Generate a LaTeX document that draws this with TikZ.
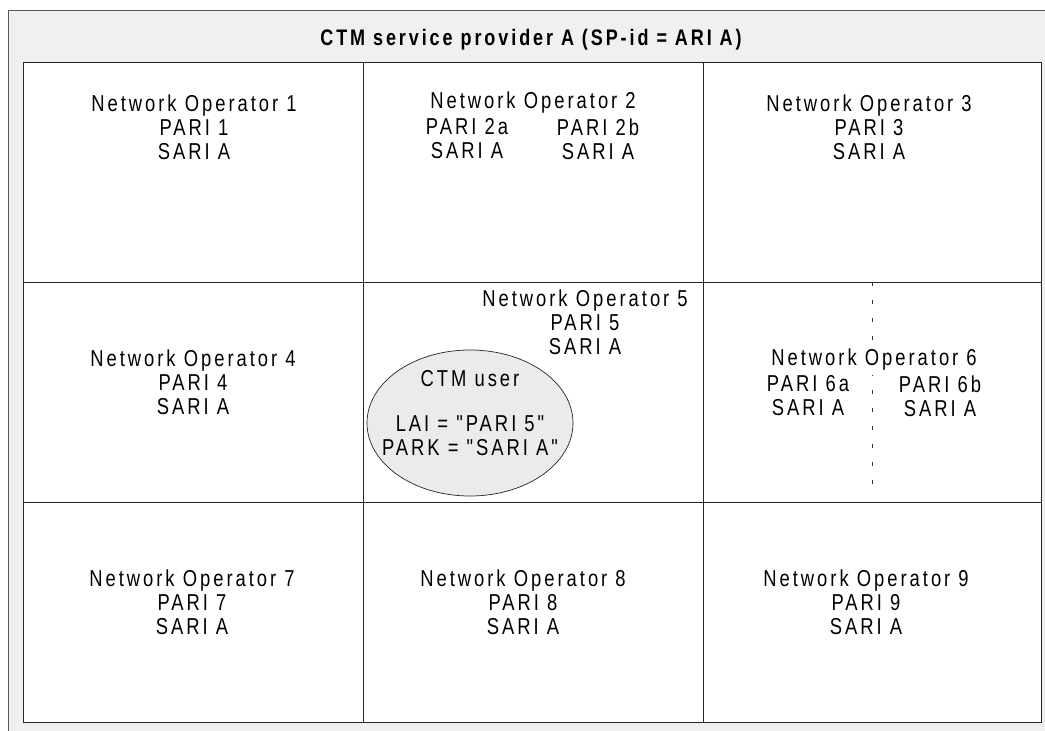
\documentclass[tikz,border=0pt]{standalone}
\usepackage{fontspec}
\setmainfont{Liberation Sans}[Ligatures=TeXOff, LetterSpace=13, FakeStretch=0.8]
\usetikzlibrary{shapes.geometric}

\begin{document}
\begin{tikzpicture}[x=1pt, y=-1pt, font=\fontsize{23}{24}\selectfont]

    \tikzstyle{every node}=[align=center, inner sep=0pt]
    \tikzstyle{cell}=[draw=black!85, line width=0.9pt, minimum width=340pt, minimum height=220pt, anchor=north west]
    \tikzstyle{divider}=[black!80, line width=0.8pt, dash pattern=on 4pt off 14pt]

    \useasboundingbox (0,0) rectangle (1045,731);
    \fill[black!6] (8,10) rectangle (1045,731);
    \draw[black!65, line width=1pt] (1045,10) -- (8,10) -- (8,731);

    \node (title) at (531,40) {\fontsize{22.5}{24}\selectfont\bfseries CTM service provider A (SP-id = ARI A)};

    % grid of operators
    \node[cell, fill=white] (c1) at (23,62)  {};
    \node[cell, fill=white] (c2) at (363,62) {};
    \node[cell, fill=white, minimum width=338pt] (c3) at (703,62) {};
    \node[cell, fill=white] (c4) at (23,282)  {};
    \node[cell, fill=white] (c5) at (363,282) {};
    \node[cell, fill=white, minimum width=338pt] (c6) at (703,282) {};
    \node[cell, fill=white] (c7) at (23,502)  {};
    \node[cell, fill=white] (c8) at (363,502) {};
    \node[cell, fill=white, minimum width=338pt] (c9) at (703,502) {};

    \node (op1) at (194,127) {Network Operator 1\\PARI 1\\SARI A};
    \node (op2) at (533,103) {Network Operator 2};
    \node (op2a) at (467,139) {PARI 2a\\SARI A};
    \node (op2b) at (598,139) {PARI 2b\\SARI A};
    \node (op3) at (869,127) {Network Operator 3\\PARI 3\\SARI A};

    \node (op4) at (193,382) {Network Operator 4\\PARI 4\\SARI A};
    \node (op5) at (585,322) {Network Operator 5\\PARI 5\\SARI A};
    \node[ellipse, draw=black!85, line width=0.7pt, fill=black!8, minimum width=206pt, minimum height=146pt] (user) at (470,423) {};
    \node (userlbl) at (470,413) {CTM user\\[21pt]LAI = "PARI 5"\\PARK = "SARI A"};
    \draw[divider] (c6.north) -- ++(0,206);
    \node[fill=white, inner sep=4pt] (op6) at (874,360) {Network Operator 6};
    \node (op6a) at (808,396) {PARI 6a\\SARI A};
    \node (op6b) at (940,396) {PARI 6b\\SARI A};

    \node (op7) at (192,602) {Network Operator 7\\PARI 7\\SARI A};
    \node (op8) at (523,602) {Network Operator 8\\PARI 8\\SARI A};
    \node (op9) at (866,602) {Network Operator 9\\PARI 9\\SARI A};

\end{tikzpicture}
\end{document}
